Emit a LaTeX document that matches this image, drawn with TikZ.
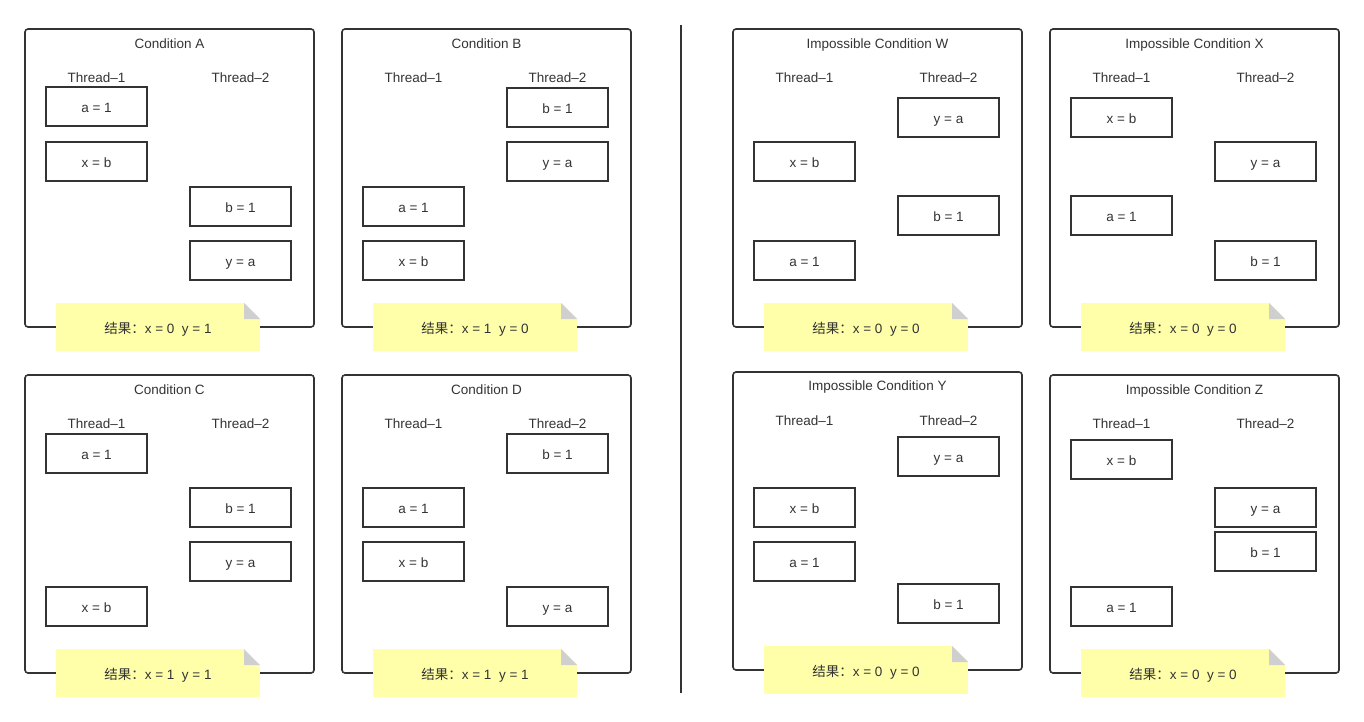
\documentclass[tikz,border=0pt]{standalone}
\usepackage{fontspec}
\setmainfont{Liberation Sans}
\newfontfamily\cjk{Noto Sans CJK SC}
\usepackage{tikz}
\usepackage{xcolor}
\definecolor{ink}{HTML}{333333}
\definecolor{notefill}{HTML}{FFFFAA}
\definecolor{foldgray}{HTML}{CFCFCF}

\begin{document}
\begin{tikzpicture}[x=1pt,y=-1pt,
  frame/.style={draw=ink,line width=1.6pt,rounded corners=3pt},
  label/.style={text=ink,inner sep=0pt,text height=12.5pt,text depth=0pt,
    font=\fontsize{13.5}{15}\selectfont},
  op/.style={draw=ink,line width=1.8pt,minimum width=101pt,minimum height=39pt,
    inner sep=0pt,text=ink,text height=12.5pt,text depth=0pt,
    font=\fontsize{13.5}{15}\selectfont},
  note/.style={fill=notefill,minimum width=204pt,minimum height=48pt,inner sep=0pt,
    text=ink,text height=12.5pt,text depth=0pt,font=\fontsize{13.5}{15}\selectfont,
    path picture={
      \fill[white] (path picture bounding box.north east) -- ++(-16,0) -- ++(16,16) -- cycle;
      \fill[foldgray] ([xshift=-16pt]path picture bounding box.north east) -- ++(0,16) -- ++(16,0) -- cycle;}}]
\useasboundingbox (0,0) rectangle (1364,722);

% possible orders
\begin{scope}[shift={(25,29)}]
\draw[frame] (0,0) rectangle (289,298);
\node[label] (A-title) at (144.5,13) {Condition A};
\node[label] (A-t1) at (71.5,47) {Thread--1};
\node[label] (A-t2) at (215.5,47) {Thread--2};
\node[op] (A-a) at (71.5,77.5) {a = 1};
\node[op] (A-x) at (71.5,132.5) {x = b};
\node[op] (A-b) at (215.5,177.5) {b = 1};
\node[op] (A-y) at (215.5,231.5) {y = a};
\node[note] (A-res) at (133,298) {{\cjk 结果：}x = 0\ \ y = 1};
\end{scope}

\begin{scope}[shift={(342,29)}]
\draw[frame] (0,0) rectangle (289,298);
\node[label] (B-title) at (144.5,13) {Condition B};
\node[label] (B-t1) at (71.5,47) {Thread--1};
\node[label] (B-t2) at (215.5,47) {Thread--2};
\node[op] (B-b) at (215.5,78.5) {b = 1};
\node[op] (B-y) at (215.5,132.5) {y = a};
\node[op] (B-a) at (71.5,177.5) {a = 1};
\node[op] (B-x) at (71.5,231.5) {x = b};
\node[note] (B-res) at (133,298) {{\cjk 结果：}x = 1\ \ y = 0};
\end{scope}

\begin{scope}[shift={(25,375)}]
\draw[frame] (0,0) rectangle (289,298);
\node[label] (C-title) at (144.5,13) {Condition C};
\node[label] (C-t1) at (71.5,47) {Thread--1};
\node[label] (C-t2) at (215.5,47) {Thread--2};
\node[op] (C-a) at (71.5,78.5) {a = 1};
\node[op] (C-b) at (215.5,132.5) {b = 1};
\node[op] (C-y) at (215.5,186.5) {y = a};
\node[op] (C-x) at (71.5,231.5) {x = b};
\node[note] (C-res) at (133,298) {{\cjk 结果：}x = 1\ \ y = 1};
\end{scope}

\begin{scope}[shift={(342,375)}]
\draw[frame] (0,0) rectangle (289,298);
\node[label] (D-title) at (144.5,13) {Condition D};
\node[label] (D-t1) at (71.5,47) {Thread--1};
\node[label] (D-t2) at (215.5,47) {Thread--2};
\node[op] (D-b) at (215.5,78.5) {b = 1};
\node[op] (D-a) at (71.5,132.5) {a = 1};
\node[op] (D-x) at (71.5,186.5) {x = b};
\node[op] (D-y) at (215.5,231.5) {y = a};
\node[note] (D-res) at (133,298) {{\cjk 结果：}x = 1\ \ y = 1};
\end{scope}

\draw[ink,line width=1.5pt] (681,25) -- (681,693);

% impossible orders
\begin{scope}[shift={(733,29)}]
\draw[frame] (0,0) rectangle (289,298);
\node[label] (W-title) at (144.5,13) {Impossible Condition W};
\node[label] (W-t1) at (71.5,47) {Thread--1};
\node[label] (W-t2) at (215.5,47) {Thread--2};
\node[op] (W-y) at (215.5,88.5) {y = a};
\node[op] (W-x) at (71.5,132.5) {x = b};
\node[op] (W-b) at (215.5,186.5) {b = 1};
\node[op] (W-a) at (71.5,231.5) {a = 1};
\node[note] (W-res) at (133,298) {{\cjk 结果：}x = 0\ \ y = 0};
\end{scope}

\begin{scope}[shift={(1050,29)}]
\draw[frame] (0,0) rectangle (289,298);
\node[label] (X-title) at (144.5,13) {Impossible Condition X};
\node[label] (X-t1) at (71.5,47) {Thread--1};
\node[label] (X-t2) at (215.5,47) {Thread--2};
\node[op] (X-x) at (71.5,88.5) {x = b};
\node[op] (X-y) at (215.5,132.5) {y = a};
\node[op] (X-a) at (71.5,186.5) {a = 1};
\node[op] (X-b) at (215.5,231.5) {b = 1};
\node[note] (X-res) at (133,298) {{\cjk 结果：}x = 0\ \ y = 0};
\end{scope}

\begin{scope}[shift={(733,372)}]
\draw[frame] (0,0) rectangle (289,298);
\node[label] (Y-title) at (144.5,12) {Impossible Condition Y};
\node[label] (Y-t1) at (71.5,47) {Thread--1};
\node[label] (Y-t2) at (215.5,47) {Thread--2};
\node[op] (Y-y) at (215.5,84.5) {y = a};
\node[op] (Y-x) at (71.5,135.5) {x = b};
\node[op] (Y-a) at (71.5,189.5) {a = 1};
\node[op] (Y-b) at (215.5,231.5) {b = 1};
\node[note] (Y-res) at (133,298) {{\cjk 结果：}x = 0\ \ y = 0};
\end{scope}

\begin{scope}[shift={(1050,375)}]
\draw[frame] (0,0) rectangle (289,298);
\node[label] (Z-title) at (144.5,13) {Impossible Condition Z};
\node[label] (Z-t1) at (71.5,47) {Thread--1};
\node[label] (Z-t2) at (215.5,47) {Thread--2};
\node[op] (Z-x) at (71.5,84.5) {x = b};
\node[op] (Z-y) at (215.5,132.5) {y = a};
\node[op] (Z-b) at (215.5,176.5) {b = 1};
\node[op] (Z-a) at (71.5,231.5) {a = 1};
\node[note] (Z-res) at (133,298) {{\cjk 结果：}x = 0\ \ y = 0};
\end{scope}
\end{tikzpicture}
\end{document}
